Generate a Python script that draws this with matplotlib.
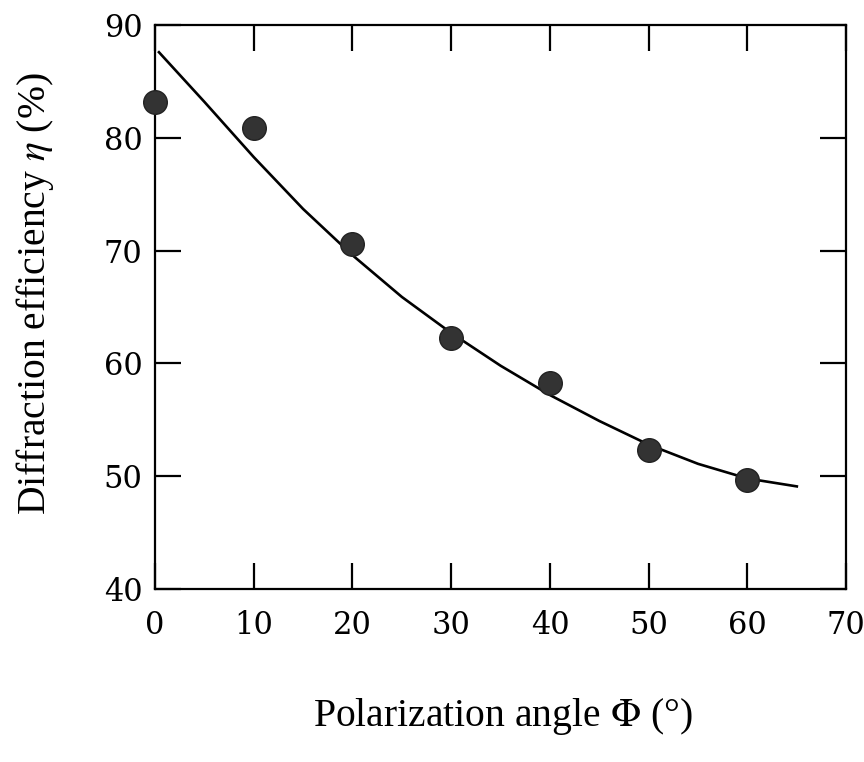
import matplotlib
matplotlib.use("Agg")
import matplotlib.pyplot as plt

# measured points (dots)
angle = [0, 10, 20, 30, 40, 50, 60]
efficiency = [83.2, 80.9, 70.6, 62.3, 58.3, 52.3, 49.7]

# fitted curve
curve_angle = [0.4, 5, 10, 15, 20, 25, 30, 35, 40, 45, 50, 55, 60, 65]
curve_eff = [87.6, 83.2, 78.3, 73.7, 69.6, 65.9, 62.7, 59.8, 57.2, 54.9, 52.8, 51.1, 49.8, 49.1]

xticks = [0, 10, 20, 30, 40, 50, 60, 70]
yticks = [40, 50, 60, 70, 80, 90]

plt.rcParams["mathtext.fontset"] = "stix"

fig = plt.figure(figsize=(8.64, 7.62), dpi=100)
ax = fig.add_axes([0.1794, 0.227, 0.800, 0.740])

ax.plot(curve_angle, curve_eff, "-", color="black", lw=1.9, zorder=2)
ax.plot(angle, efficiency, "o", color="#333333", ms=17, mec="#222222", zorder=3,
        clip_on=False)

ax.set_xlim(0, 70)
ax.set_ylim(40, 90)
ax.set_xticks(xticks)
ax.set_yticks(yticks)

for s in ax.spines.values():
    s.set_linewidth(1.6)

ax.tick_params(direction="in", length=19, width=1.6, top=True, right=True,
               labelsize=22)
ax.tick_params(axis="x", pad=15)
ax.tick_params(axis="y", pad=9)
for lab in ax.get_xticklabels() + ax.get_yticklabels():
    lab.set_family("DejaVu Serif")

ax.set_xlabel("Polarization angle $\\Phi$ (°)", family="Liberation Serif", fontsize=28.5)
ax.set_ylabel("Diffraction efficiency $\\eta$ (%)", family="Liberation Serif", fontsize=28.5)
ax.xaxis.set_label_coords(0.504, -0.19)
ax.yaxis.set_label_coords(-0.143, 0.524)

plt.savefig("out.png", dpi=100)
